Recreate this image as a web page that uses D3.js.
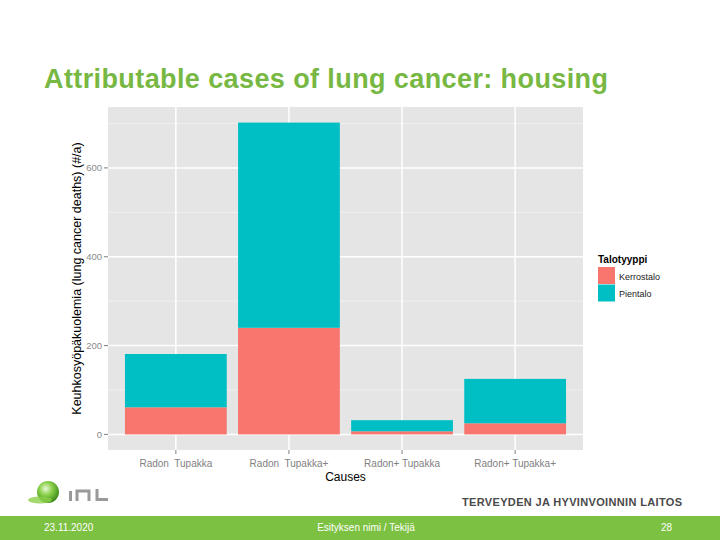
<!DOCTYPE html>
<html>
<head>
<meta charset="utf-8">
<script src="https://cdn.jsdelivr.net/npm/d3@7"></script>
<style>
  body { margin: 0; background: #fff; }
  svg { display: block; font-family: "Liberation Sans", Arial, sans-serif; }
</style>
</head>
<body>
<svg width="720" height="540"></svg>
<script>
// data
var causes = ["Radon  Tupakka", "Radon  Tupakka+", "Radon+ Tupakka", "Radon+ Tupakka+"];
var houseTypes = ["Kerrostalo", "Pientalo"];
var kerrostalo = [61, 240, 7, 25];
var pientalo = [120, 462, 25, 100];
var yTicks = [0, 200, 400, 600];
var yMinor = [100, 300, 500, 700];
var colors = ["#F8766D", "#00BFC4"];

var svg = d3.select("svg"),
    width = +svg.attr("width"),
    height = +svg.attr("height");

var panel = {left: 108, right: 583, top: 107, bottom: 450};

var rows = causes.map(function (c, i) {
    return {cause: c, Kerrostalo: kerrostalo[i], Pientalo: pientalo[i]};
});
var stacked = d3.stack().keys(houseTypes)(rows);

// ggplot style discrete axis: 0.6 unit expansion each side, bars 0.9 unit wide
var x = d3.scalePoint()
    .domain(causes)
    .range([panel.left, panel.right])
    .padding(0.6);
var barW = x.step() * 0.9;

var ymax = d3.max(rows, function (d) { return d.Kerrostalo + d.Pientalo; });
var y = d3.scaleLinear()
    .domain([-ymax * 0.05, ymax * 1.05])
    .range([panel.bottom, panel.top]);

// title
svg.append("text")
    .attr("x", 44).attr("y", 88)
    .attr("textLength", 564)
    .style("font-size", "27px")
    .style("font-weight", "bold")
    .style("fill", "#77B843")
    .text("Attributable cases of lung cancer: housing");

// panel background
svg.append("rect")
    .attr("x", panel.left).attr("y", panel.top)
    .attr("width", panel.right - panel.left)
    .attr("height", panel.bottom - panel.top)
    .attr("fill", "#E5E5E5");

// minor grid
svg.append("g").selectAll("line").data(yMinor).enter().append("line")
    .attr("x1", panel.left).attr("x2", panel.right)
    .attr("y1", function (d) { return y(d); }).attr("y2", function (d) { return y(d); })
    .attr("stroke", "#F2F2F2").attr("stroke-width", 0.8);

// major grid
svg.append("g").selectAll("line").data(yTicks).enter().append("line")
    .attr("x1", panel.left).attr("x2", panel.right)
    .attr("y1", function (d) { return y(d); }).attr("y2", function (d) { return y(d); })
    .attr("stroke", "#FFFFFF").attr("stroke-width", 1.5);
svg.append("g").selectAll("line").data(causes).enter().append("line")
    .attr("y1", panel.top).attr("y2", panel.bottom)
    .attr("x1", function (d) { return x(d); }).attr("x2", function (d) { return x(d); })
    .attr("stroke", "#FFFFFF").attr("stroke-width", 1.5);

// bars
svg.append("g").selectAll("g").data(stacked).enter().append("g")
    .attr("fill", function (d, i) { return colors[i]; })
    .selectAll("rect").data(function (d) { return d; }).enter().append("rect")
    .attr("x", function (d) { return x(d.data.cause) - barW / 2; })
    .attr("width", barW)
    .attr("y", function (d) { return y(d[1]); })
    .attr("height", function (d) { return y(d[0]) - y(d[1]); });

// y axis ticks
var ya = svg.append("g");
ya.selectAll("line").data(yTicks).enter().append("line")
    .attr("x1", panel.left - 4).attr("x2", panel.left)
    .attr("y1", function (d) { return y(d); }).attr("y2", function (d) { return y(d); })
    .attr("stroke", "#7F7F7F");
ya.selectAll("text").data(yTicks).enter().append("text")
    .attr("x", panel.left - 6)
    .attr("y", function (d) { return y(d) + 3.5; })
    .attr("text-anchor", "end")
    .style("font-size", "9.5px")
    .style("fill", "#8A8A8A")
    .text(function (d) { return d; });

// x axis ticks
var xa = svg.append("g");
xa.selectAll("line").data(causes).enter().append("line")
    .attr("x1", function (d) { return x(d); }).attr("x2", function (d) { return x(d); })
    .attr("y1", panel.bottom).attr("y2", panel.bottom + 4)
    .attr("stroke", "#7F7F7F");
xa.selectAll("text").data(causes).enter().append("text")
    .attr("x", function (d) { return x(d); })
    .attr("y", 467)
    .attr("text-anchor", "middle")
    .style("font-size", "10px")
    .style("fill", "#7F7F7F")
    .style("white-space", "pre")
    .text(function (d) { return d; });

// axis titles
svg.append("text")
    .attr("x", (panel.left + panel.right) / 2).attr("y", 481)
    .attr("text-anchor", "middle")
    .style("font-size", "12px")
    .style("fill", "#000")
    .text("Causes");
svg.append("text")
    .attr("transform", "translate(81," + ((panel.top + panel.bottom) / 2) + ") rotate(-90)")
    .attr("text-anchor", "middle")
    .style("font-size", "12.5px")
    .style("fill", "#000")
    .text("Keuhkosyöpäkuolemia (lung cancer deaths) (#/a)");

// legend
var lg = svg.append("g").attr("transform", "translate(598,250)");
lg.append("text")
    .attr("x", 0).attr("y", 13)
    .style("font-size", "10px").style("font-weight", "bold")
    .text("Talotyyppi");
var li = lg.selectAll("g").data(houseTypes).enter().append("g")
    .attr("transform", function (d, i) { return "translate(0," + (17 + i * 17.5) + ")"; });
li.append("rect").attr("width", 17).attr("height", 17)
    .attr("fill", function (d, i) { return colors[i]; });
li.append("text").attr("x", 21).attr("y", 12.5)
    .style("font-size", "9px").style("fill", "#222")
    .text(function (d) { return d; });

// logo
var logo = svg.append("g");
var grad = svg.append("defs").append("radialGradient").attr("id", "ball")
    .attr("cx", "40%").attr("cy", "35%").attr("r", "65%");
grad.append("stop").attr("offset", "0%").attr("stop-color", "#E8F8D8");
grad.append("stop").attr("offset", "45%").attr("stop-color", "#8CD04A");
grad.append("stop").attr("offset", "100%").attr("stop-color", "#3C8C1C");
logo.append("circle").attr("cx", 48).attr("cy", 492).attr("r", 11).attr("fill", "url(#ball)");
logo.append("ellipse").attr("cx", 40).attr("cy", 500).attr("rx", 12).attr("ry", 3.5)
    .attr("fill", "#8CD04A").attr("opacity", 0.8);
logo.append("rect").attr("x", 69).attr("y", 491).attr("width", 3).attr("height", 10).attr("fill", "#9A9A9A");
logo.append("path").attr("d", "M77,501 V491 H89 V501").attr("fill", "none").attr("stroke", "#9A9A9A").attr("stroke-width", 3);
logo.append("path").attr("d", "M97,489 V499.5 H108").attr("fill", "none").attr("stroke", "#9A9A9A").attr("stroke-width", 3);

svg.append("text")
    .attr("x", 682).attr("y", 506)
    .attr("text-anchor", "end")
    .attr("textLength", 220)
    .style("font-size", "11px").style("font-weight", "bold")
    .style("fill", "#4A4A4A")
    .text("TERVEYDEN JA HYVINVOINNIN LAITOS");

// footer
svg.append("rect").attr("x", 0).attr("y", 516).attr("width", width).attr("height", 24).attr("fill", "#7DC142");
svg.append("text").attr("x", 44).attr("y", 531)
    .style("font-size", "10px").style("fill", "#fff").text("23.11.2020");
svg.append("text").attr("x", 366).attr("y", 531).attr("text-anchor", "middle")
    .style("font-size", "10px").style("fill", "#fff").text("Esityksen nimi / Tekijä");
svg.append("text").attr("x", 672).attr("y", 531).attr("text-anchor", "end")
    .style("font-size", "10px").style("fill", "#fff").text("28");
</script>
</body>
</html>
